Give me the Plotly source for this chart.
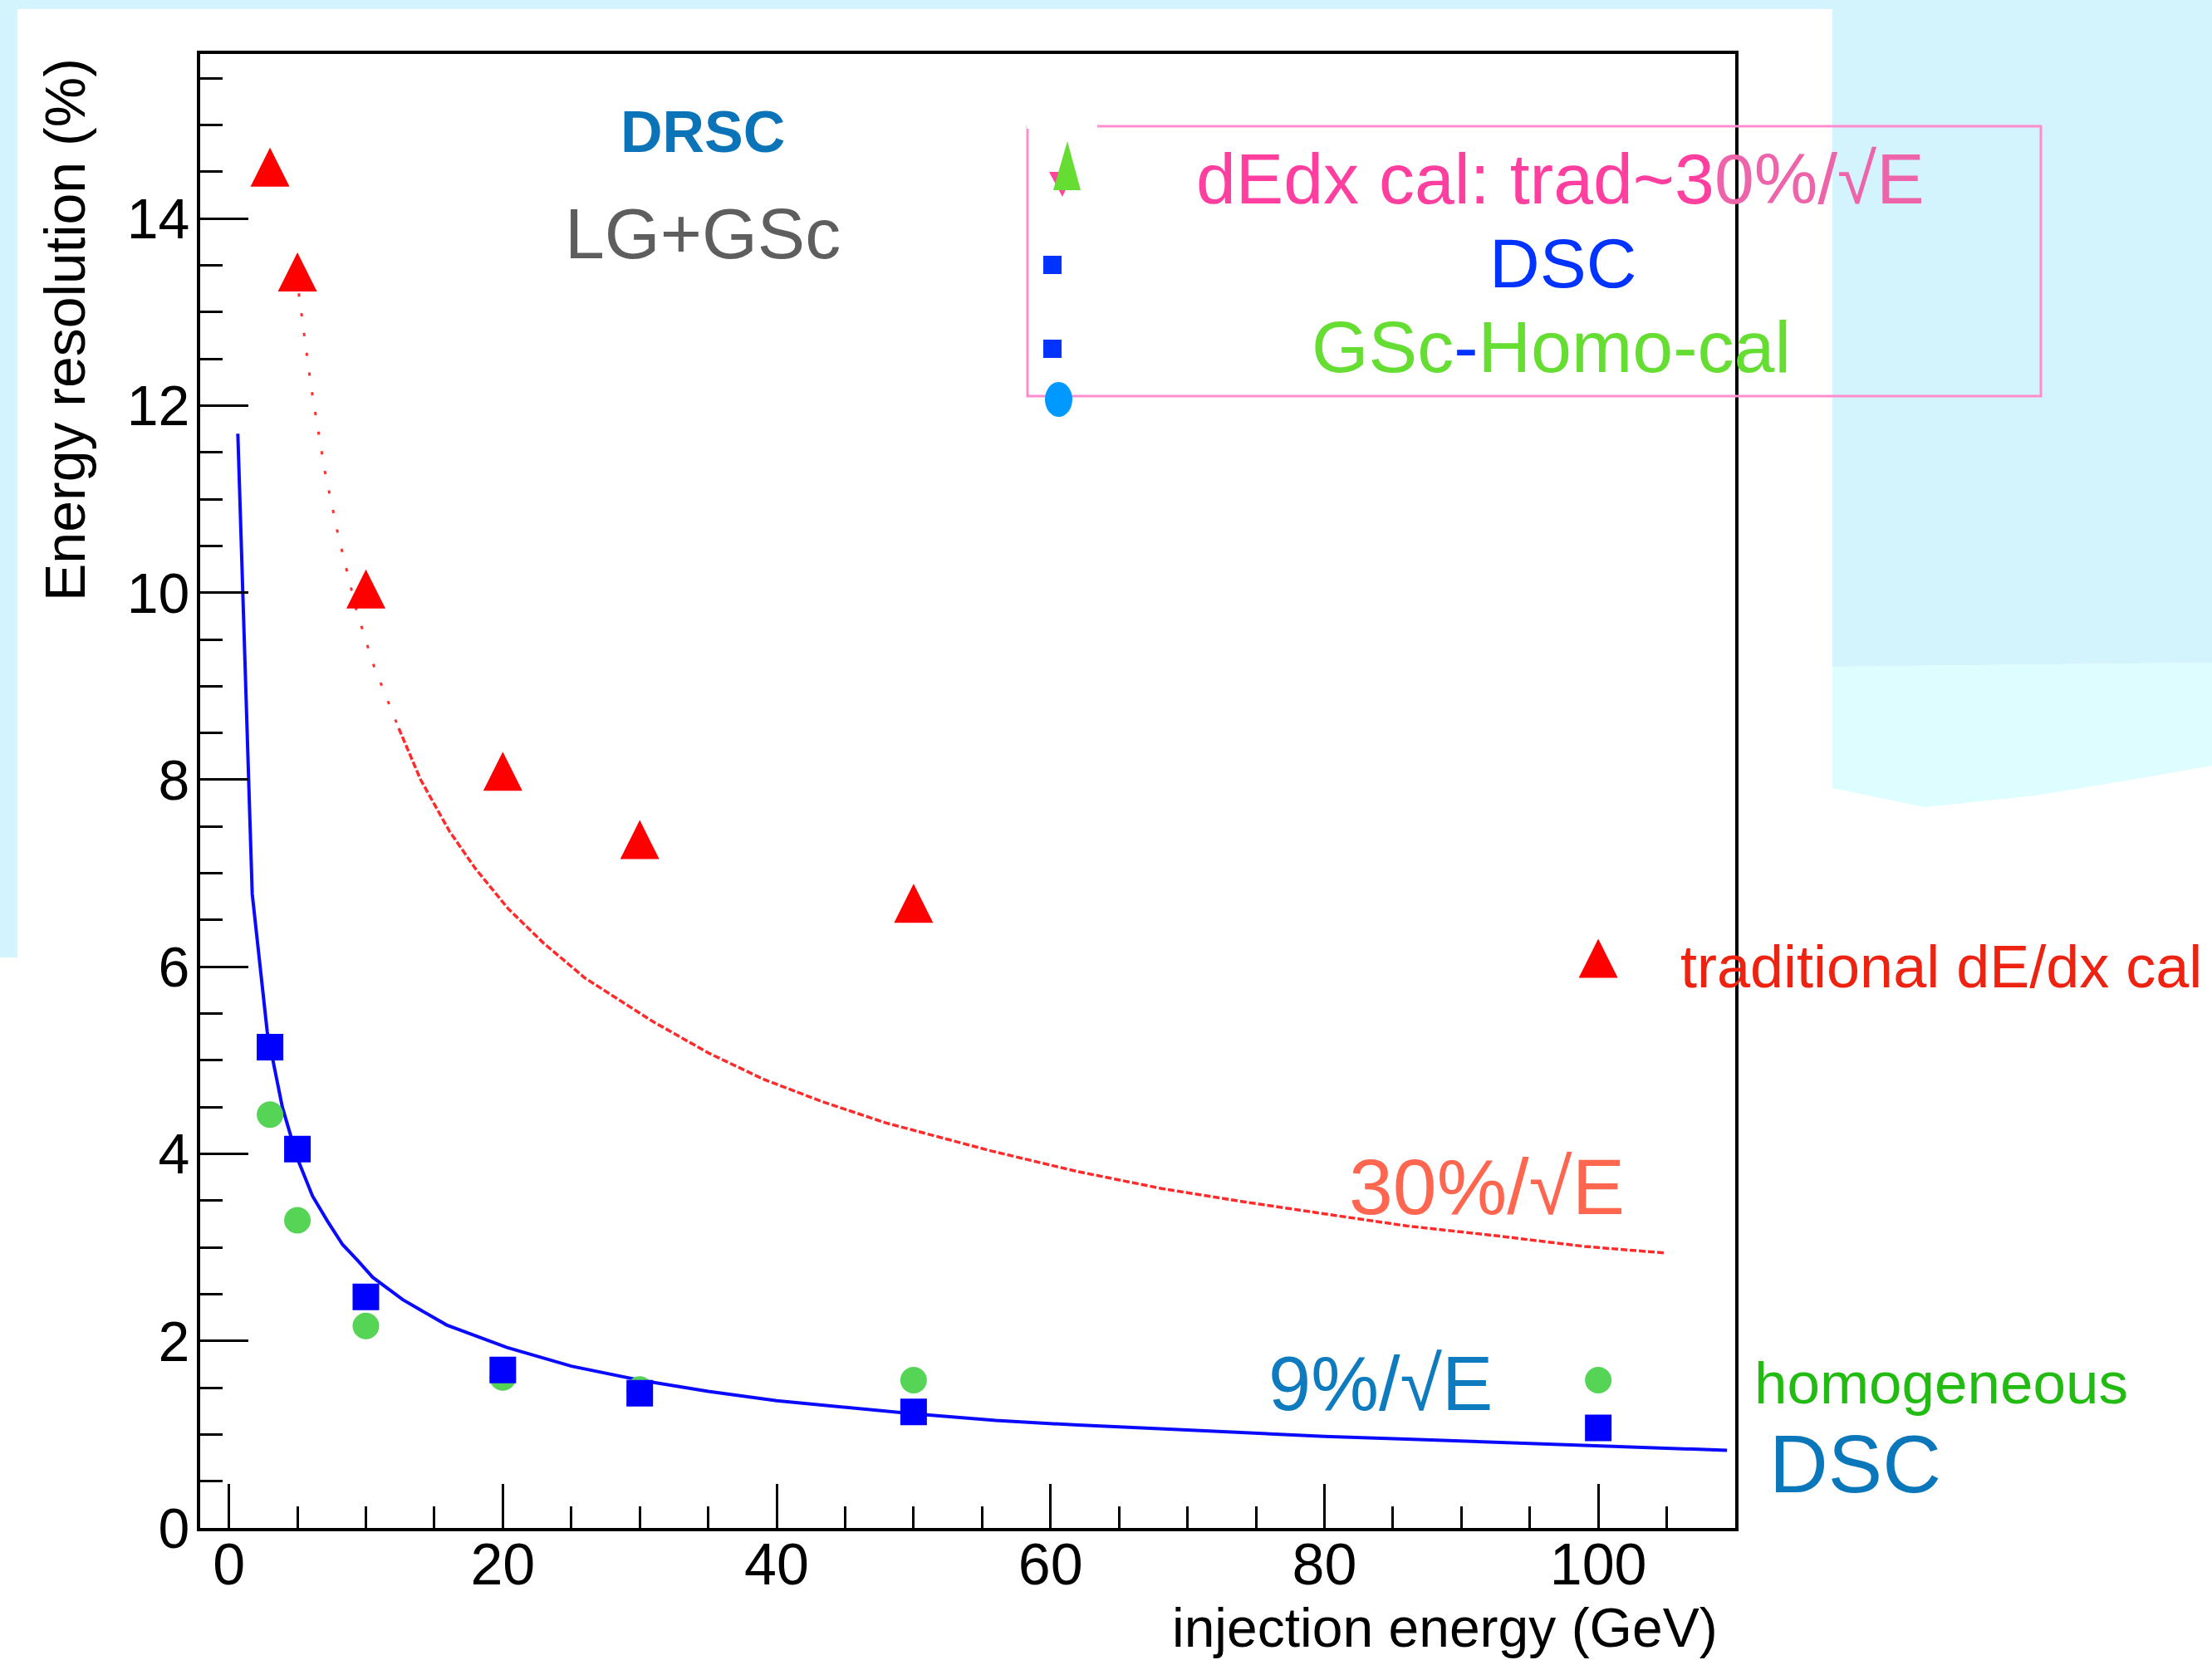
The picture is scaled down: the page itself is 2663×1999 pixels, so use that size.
import plotly.graph_objects as go

# ---------------- data ----------------
energy_points = [3, 5, 10, 20, 30, 50, 100]
trad_dedx = [14.55, 13.43, 10.04, 8.09, 7.36, 6.68, 6.09]
dsc_res = [5.14, 4.05, 2.47, 1.69, 1.44, 1.24, 1.07]
homog_res = [4.42, 3.29, 2.16, 1.61, 1.48, 1.58, 1.58]

curve9_x = [0.65, 1.7, 2.8, 3.9, 5.0, 6.1, 7.2, 8.3, 9.4, 10.5, 12.7, 15.9, 20.3,
            25, 30, 35, 40, 45, 50, 56, 62, 68, 74, 80, 86, 92, 98, 104, 109.4]
curve9_y = [11.7, 6.78, 5.3, 4.5, 3.95, 3.55, 3.28, 3.03, 2.86, 2.68, 2.44, 2.17, 1.93,
            1.73, 1.58, 1.46, 1.36, 1.29, 1.22, 1.15, 1.1, 1.06, 1.02, 0.98, 0.95, 0.92, 0.89, 0.86, 0.83]

curve30_x = [5.1, 6, 7, 8, 9.3, 10.5, 12.4, 14, 16.1, 18, 20.4, 23, 26, 30.9, 35, 39,
             43.3, 48, 55.7, 62, 68.1, 74, 80.4, 86, 92.8, 99, 104.9]
curve30_y = [13.2, 12.2, 11.3, 10.6, 9.82, 9.25, 8.55, 8.0, 7.45, 7.05, 6.62, 6.25, 5.88,
             5.42, 5.08, 4.8, 4.56, 4.33, 4.03, 3.81, 3.63, 3.49, 3.35, 3.23, 3.12, 3.01, 2.94]

x_tick_vals = [0, 20, 40, 60, 80, 100]
y_tick_vals = [0, 2, 4, 6, 8, 10, 12, 14]
x_range = [-2.1, 110]
y_range = [0, 15.76]

# ---------------- geometry / styles ----------------
W, H = 2663, 1999
L, R, T, B = 241, 2089, 65, 1840
FONT = "Liberation Sans, Arial, Helvetica, sans-serif"


def px(x):
    return (x - L) / (R - L)


def py(y):
    return (B - y) / (B - T)


TRI_SIZE = 47
px_per_unit = (B - T) / (y_range[1] - y_range[0])
tri_shift = (TRI_SIZE / 2) / px_per_unit

fig = go.Figure()

split = curve30_x.index(12.4)
fig.add_trace(go.Scatter(x=curve30_x[:split + 1], y=curve30_y[:split + 1], mode="lines",
                         line=dict(color="#ff3030", width=3, dash="4px,20px"),
                         hoverinfo="skip"))
fig.add_trace(go.Scatter(x=curve30_x[split:], y=curve30_y[split:], mode="lines",
                         line=dict(color="#ff2a2a", width=3.5, dash="8px,3px"),
                         hoverinfo="skip"))
fig.add_trace(go.Scatter(x=curve9_x, y=curve9_y, mode="lines",
                         line=dict(color="#0a0aff", width=4), hoverinfo="skip"))
fig.add_trace(go.Scatter(x=energy_points, y=homog_res, mode="markers",
                         marker=dict(symbol="circle", size=32, color="#55d455",
                                     line=dict(width=0))))
fig.add_trace(go.Scatter(x=energy_points, y=dsc_res, mode="markers",
                         marker=dict(symbol="square", size=32, color="#0000ff",
                                     line=dict(width=0))))
fig.add_trace(go.Scatter(x=energy_points, y=trad_dedx, mode="markers", yaxis="y2",
                         marker=dict(symbol="arrow-up", size=TRI_SIZE, color="#ff0000",
                                     line=dict(width=0))))

# ---------------- annotations ----------------
ann = []


def text(t, x, y, size, color, xanchor="center", yanchor="middle", angle=0, pad=1):
    ann.append(dict(text=t, x=px(x), y=py(y), xref="paper", yref="paper",
                    xanchor=xanchor, yanchor=yanchor, showarrow=False, textangle=angle,
                    borderpad=pad, font=dict(family=FONT, size=size, color=color)))


text("<b>DRSC</b>", 846, 159, 70, "#0b74b8")
text("LG+GSc", 846, 281, 86, "#5e5e5e")
text("<span style='color:#ff3fa0'>dEdx cal: trad~3</span><span style='color:#ee64aa'>0%/√E</span>",
     1878, 215, 86, "#ff3fa0")
text("DSC", 1881, 317, 84, "#0033ff")
text("GSc<span style='color:#0033ff'>-</span>Homo-cal", 1867, 417, 88, "#66dd33")
text("traditional dE/dx cal", 2337, 1164, 72, "#ee2211")
text("30%/√E", 1790, 1429, 95, "#ff6650")
text("9%/√E", 1662, 1666, 92, "#0f7bbf")
text("homogeneous", 2337, 1665, 71, "#22bb11")
text("DSC", 2233, 1763, 98, "#0a77bb")
text("Energy resolution (%)", 78, 68, 68, "black", yanchor="top", angle=-90)
text("injection energy (GeV)", 2069, 1998, 66, "black", xanchor="right", yanchor="bottom", pad=0)

# ---------------- shapes ----------------
shapes = []
bg_dark = "#d3f4fc"
bg_light = "#defdff"


def path(points):
    return "M " + " L ".join(f"{px(a):.5f},{py(b):.5f}" for a, b in points) + " Z"


# background panels (outside the plot area)
shapes.append(dict(type="rect", xref="paper", yref="paper", layer="below",
                   x0=px(0), x1=px(W), y0=py(0), y1=py(11), fillcolor=bg_dark, line=dict(width=0)))
shapes.append(dict(type="rect", xref="paper", yref="paper", layer="below",
                   x0=px(0), x1=px(21), y0=py(0), y1=py(1153), fillcolor=bg_dark, line=dict(width=0)))
shapes.append(dict(type="path", xref="paper", yref="paper", layer="below",
                   path=path([(2206, 0), (W, 0), (W, 798), (2206, 803)]),
                   fillcolor=bg_dark, line=dict(width=0)))
shapes.append(dict(type="path", xref="paper", yref="paper", layer="below",
                   path=path([(2206, 803), (W, 798), (W, 922), (2560, 940), (2450, 958),
                              (2317, 972), (2206, 949)]),
                   fillcolor=bg_light, line=dict(width=0)))

# legend box and symbols
shapes.append(dict(type="rect", xref="paper", yref="paper", layer="above",
                   x0=px(1237), x1=px(2457), y0=py(152), y1=py(477),
                   line=dict(color="#ff8ccc", width=3)))
shapes.append(dict(type="line", xref="paper", yref="paper", layer="above",
                   x0=px(1236), x1=px(1321), y0=py(152), y1=py(152),
                   line=dict(color="white", width=6)))
shapes.append(dict(type="path", xref="paper", yref="paper", layer="above",
                   path=path([(1263, 207), (1293, 207), (1279, 237)]),
                   fillcolor="#ff4499", line=dict(width=0)))
shapes.append(dict(type="path", xref="paper", yref="paper", layer="above",
                   path=path([(1268, 229), (1301, 229), (1285, 170)]),
                   fillcolor="#66dd33", line=dict(width=0)))
for y0 in (308, 409):
    shapes.append(dict(type="rect", xref="paper", yref="paper", layer="above",
                       x0=px(1256), x1=px(1278), y0=py(y0), y1=py(y0 + 22),
                       fillcolor="#0033ff", line=dict(width=0)))
shapes.append(dict(type="circle", xref="paper", yref="paper", layer="above",
                   x0=px(1258), x1=px(1291), y0=py(460), y1=py(502),
                   fillcolor="#0099ff", line=dict(width=0)))

axis_common = dict(showgrid=False, zeroline=False, showline=True, linewidth=4,
                   linecolor="black", mirror=True, ticks="inside", tickcolor="black",
                   tickwidth=3)

fig.update_layout(
    width=W, height=H, autosize=False,
    margin=dict(l=L, r=W - R, t=T, b=H - B, pad=0),
    paper_bgcolor="white", plot_bgcolor="white",
    showlegend=False,
    annotations=ann, shapes=shapes,
    xaxis=dict(range=x_range, tickvals=x_tick_vals, ticklen=53,
               minor=dict(dtick=5, tick0=0, ticklen=26, tickwidth=3, tickcolor="black",
                          ticks="inside"),
               tickfont=dict(family=FONT, size=70, color="black"),
               ticklabelstandoff=-20, **axis_common),
    yaxis=dict(range=y_range, tickvals=y_tick_vals, ticklen=58,
               minor=dict(dtick=0.5, tick0=0, ticklen=27, tickwidth=3, tickcolor="black",
                          ticks="inside"),
               tickfont=dict(family=FONT, size=68, color="black"),
               ticklabelstandoff=-5, **axis_common),
    yaxis2=dict(overlaying="y", range=[y_range[0] - tri_shift, y_range[1] - tri_shift],
                visible=False, showgrid=False, zeroline=False),
)

fig.write_html("out.html", config={"displayModeBar": False},
               post_script="document.body.style.margin='0';document.body.style.overflow='hidden';")
